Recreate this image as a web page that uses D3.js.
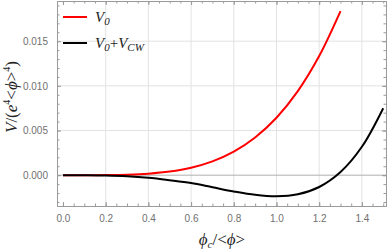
<!DOCTYPE html>
<html>
<head>
<meta charset="utf-8">
<script src="https://cdn.jsdelivr.net/npm/d3@7"></script>
<style>
  body { margin: 0; background: #fff; }
  svg { display: block; }
</style>
</head>
<body>
<div id="chart"></div>
<script>
// Data
const phi = [0, 0.1, 0.2, 0.3, 0.4, 0.5, 0.6, 0.7, 0.8, 0.9, 1.0, 1.1, 1.2, 1.3, 1.4, 1.5];
const v0 = [0, 0.0000006, 0.0000103, 0.000052, 0.000165, 0.000402, 0.000833, 0.001544,
            0.002634, 0.004219, 0.00643, 0.009414, 0.013333, 0.018365];
const vTotal = [0, -0.0000024, -0.0000283, -0.000112, -0.000284, -0.00056, -0.00088, -0.001350,
                -0.001820, -0.002200, -0.00237, -0.002145, -0.001323, 0.000351, 0.003177, 0.0075];
const xTicks = [0, 0.2, 0.4, 0.6, 0.8, 1.0, 1.2, 1.4];
const yTicks = [0, 0.005, 0.010, 0.015];

const W = 390, H = 250;
const mLeft = 57, mRight = 386, mTop = 1, mBottom = 206;

const x = d3.scaleLinear().domain([-0.028, 1.513]).range([mLeft, mRight]);
const y = d3.scaleLinear().domain([-0.00345, 0.0195]).range([mBottom, mTop]);

const svg = d3.select("#chart").append("svg")
    .attr("width", W).attr("height", H);

// grid
const grid = svg.append("g").attr("stroke", "#e3e3e3").attr("stroke-width", 1);
grid.selectAll(".gx").data(xTicks.filter(d => d > 0)).enter().append("line")
    .attr("x1", d => x(d)).attr("x2", d => x(d))
    .attr("y1", mTop).attr("y2", mBottom);
grid.selectAll(".gy").data(yTicks.filter(d => d !== 0)).enter().append("line")
    .attr("y1", d => y(d)).attr("y2", d => y(d))
    .attr("x1", mLeft).attr("x2", mRight);
// zero axis line
svg.append("line")
    .attr("x1", mLeft).attr("x2", mRight)
    .attr("y1", y(0)).attr("y2", y(0))
    .attr("stroke", "#b0b0b0").attr("stroke-width", 1);

// frame with inward ticks on all sides
const frameColor = "#9a9a9a";
const xMinor = d3.range(0, 1.51, 0.05).filter(d => x(d) < mRight);
const yMinor = d3.range(-3, 20, 1).map(d => d * 0.001);

const axB = d3.axisBottom(x).tickValues(xTicks).tickFormat(d3.format(".1f")).tickSizeInner(-4).tickSizeOuter(0).tickPadding(9);
const axL = d3.axisLeft(y).tickValues(yTicks).tickFormat(d3.format(".3f")).tickSizeInner(-4).tickSizeOuter(0).tickPadding(9);

svg.append("g").attr("transform", `translate(0,${mBottom})`).call(axB);
svg.append("g").attr("transform", `translate(${mLeft},0)`).call(axL);
svg.append("g").attr("transform", `translate(0,${mTop})`)
    .call(d3.axisTop(x).tickValues(xTicks).tickFormat("").tickSizeInner(-4).tickSizeOuter(0));
svg.append("g").attr("transform", `translate(${mRight},0)`)
    .call(d3.axisRight(y).tickValues(yTicks).tickFormat("").tickSizeInner(-4).tickSizeOuter(0));

// minor ticks
svg.append("g").attr("transform", `translate(0,${mBottom})`)
    .call(d3.axisBottom(x).tickValues(xMinor).tickFormat("").tickSizeInner(-2.5).tickSizeOuter(0));
svg.append("g").attr("transform", `translate(0,${mTop})`)
    .call(d3.axisTop(x).tickValues(xMinor).tickFormat("").tickSizeInner(-2.5).tickSizeOuter(0));
svg.append("g").attr("transform", `translate(${mLeft},0)`)
    .call(d3.axisLeft(y).tickValues(yMinor).tickFormat("").tickSizeInner(-2.5).tickSizeOuter(0));
svg.append("g").attr("transform", `translate(${mRight},0)`)
    .call(d3.axisRight(y).tickValues(yMinor).tickFormat("").tickSizeInner(-2.5).tickSizeOuter(0));

svg.selectAll(".domain, .tick line").attr("stroke", frameColor);
svg.selectAll(".tick text")
    .attr("fill", "#707070")
    .attr("font-family", "'Liberation Sans', Arial, sans-serif")
    .attr("font-size", 10);

// curves
const line = d3.line().curve(d3.curveCatmullRom)
    .x(d => x(d[0])).y(d => y(d[1]));
svg.append("path")
    .datum(v0.map((v, i) => [phi[i], v]))
    .attr("fill", "none").attr("stroke", "#ff0000").attr("stroke-width", 2)
    .attr("d", line);
svg.append("path")
    .datum(vTotal.map((v, i) => [phi[i], v]))
    .attr("fill", "none").attr("stroke", "#000").attr("stroke-width", 2)
    .attr("d", line);

// legend
const serif = "'Liberation Serif', 'Times New Roman', serif";
const legend = [
  { color: "#ff0000", y: 17, parts: [["V", ""], ["0", "sub"]] },
  { color: "#000", y: 43, parts: [["V", ""], ["0", "sub"], ["+", "plain"], ["V", ""], ["CW", "sub"]] }
];
legend.forEach(l => {
  svg.append("line")
    .attr("x1", 63).attr("x2", 87).attr("y1", l.y).attr("y2", l.y)
    .attr("stroke", l.color).attr("stroke-width", 2);
  const t = svg.append("text")
    .attr("x", 95).attr("y", l.y + 5)
    .attr("font-family", serif).attr("font-size", 15)
    .attr("font-style", "italic").attr("fill", "#222");
  let shifted = false;
  l.parts.forEach(p => {
    const s = t.append("tspan").text(p[0]);
    if (p[1] === "sub") { s.attr("font-size", 11).attr("dy", 3); shifted = true; }
    else {
      if (shifted) { s.attr("dy", -3); shifted = false; }
      if (p[1] === "plain") s.attr("font-style", "normal");
    }
  });
});

// axis titles
const xt = svg.append("text")
    .attr("x", 222).attr("y", 245)
    .attr("text-anchor", "middle")
    .attr("font-family", serif).attr("font-size", 17).attr("fill", "#222");
xt.append("tspan").attr("font-style", "italic").text("ϕ");
xt.append("tspan").attr("font-style", "italic").attr("font-size", 11).attr("dy", 3).text("c");
xt.append("tspan").attr("dy", -3).text("/<");
xt.append("tspan").attr("font-style", "italic").text("ϕ");
xt.append("tspan").text(">");

const yt = svg.append("text")
    .attr("transform", "translate(17,97) rotate(-90)")
    .attr("text-anchor", "middle")
    .attr("font-family", serif).attr("font-size", 17).attr("fill", "#222");
yt.append("tspan").attr("font-style", "italic").text("V");
yt.append("tspan").text("/(");
yt.append("tspan").attr("font-style", "italic").text("e");
yt.append("tspan").attr("font-size", 10).attr("dy", -7).text("4");
yt.append("tspan").attr("dy", 7).text("<");
yt.append("tspan").attr("font-style", "italic").text("ϕ");
yt.append("tspan").text(">");
yt.append("tspan").attr("font-size", 10).attr("dy", -7).text("4");
yt.append("tspan").attr("dy", 7).text(")");
</script>
</body>
</html>
